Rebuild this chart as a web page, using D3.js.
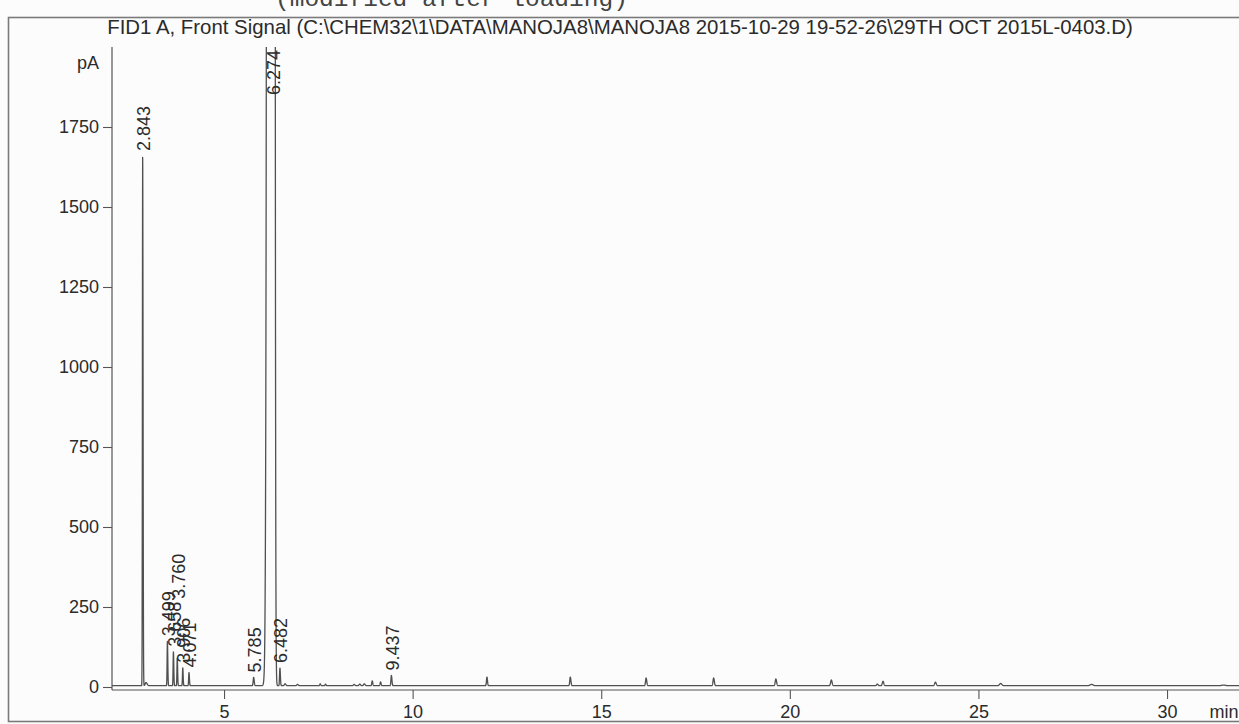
<!DOCTYPE html>
<html>
<head>
<meta charset="utf-8">
<script src="https://cdn.jsdelivr.net/npm/d3@7"></script>
<style>
  html, body { margin: 0; padding: 0; background: #fcfcfc; }
  svg { display: block; }
</style>
</head>
<body>
<svg id="chart" width="1239" height="724"></svg>
<script>
// ---- chromatogram data (FID1 A, front signal) ----
const signalTitle = "FID1 A, Front Signal (C:\\CHEM32\\1\\DATA\\MANOJA8\\MANOJA8 2015-10-29 19-52-26\\29TH OCT 2015L-0403.D)";
const headerNote = "(modified after loading)";
const yUnit = "pA";
const xUnit = "min";
const yTickLabels = [0, 250, 500, 750, 1000, 1250, 1500, 1750];
const xTickLabels = [5, 10, 15, 20, 25, 30];
const baselineLevel = 4;          // pA, detector baseline
const runRange = [2.03, 32];      // min
const signalRange = [0, 2000];    // pA shown on the axis

// retention time (min), apex signal (pA), front / tail widths (min), integrator label
const peakTimes   = [2.843, 2.93, 3.499, 3.658, 3.760, 3.906, 4.071, 5.785, 6.274, 6.482,
                     6.62, 6.95, 7.55, 7.69, 8.45, 8.60, 8.72, 8.93, 9.15, 9.437,
                     11.97, 14.18, 16.19, 17.98, 19.63, 21.10, 22.32, 22.47, 23.86, 25.59, 28.00, 31.50];
const peakHeights = [1659, 14, 143, 110, 90, 60, 45, 30, 150000, 59,
                     10, 8, 10, 9, 8, 9, 10, 19, 16, 36,
                     31, 31, 28, 28, 25, 22, 9, 18, 15, 11, 8, 6];
const peakFront   = [0.007, 0.02, 0.008, 0.008, 0.008, 0.008, 0.009, 0.012, 0.052, 0.010,
                     0.02, 0.02, 0.012, 0.012, 0.02, 0.02, 0.02, 0.012, 0.012, 0.012,
                     0.012, 0.014, 0.015, 0.016, 0.017, 0.018, 0.02, 0.018, 0.02, 0.03, 0.04, 0.05];
const peakTail    = [0.010, 0.03, 0.010, 0.010, 0.010, 0.010, 0.011, 0.015, 0.029, 0.012,
                     0.02, 0.02, 0.014, 0.014, 0.02, 0.02, 0.02, 0.014, 0.014, 0.014,
                     0.014, 0.016, 0.017, 0.018, 0.019, 0.02, 0.02, 0.02, 0.022, 0.03, 0.04, 0.05];
const peakLabels  = ["2.843", "", "3.499", "3.658", "3.760", "3.906", "4.071", "5.785", "6.274", "6.482",
                     "", "", "", "", "", "", "", "", "", "9.437",
                     "", "", "", "", "", "", "", "", "", "", "", ""];

const peaks = peakTimes.map((t, i) => ({
  t, h: peakHeights[i], front: peakFront[i], tail: peakTail[i], label: peakLabels[i]
}));

// detector response at time t: baseline plus asymmetric gaussian peaks
function signalAt(t) {
  let v = baselineLevel;
  for (const p of peaks) {
    const d = t - p.t;
    const w = d < 0 ? p.front : p.tail;
    if (Math.abs(d) > 8 * w) continue;
    v += (p.h - baselineLevel) * Math.exp(-0.5 * (d / w) * (d / w));
  }
  return v;
}

const trace = d3.range(runRange[0], runRange[1], 0.0025).map(t => [t, signalAt(t)]);

// ---- layout ----
const svg = d3.select("#chart");
const font = "'Liberation Sans', Arial, sans-serif";
const textColor = "#2b2b2b";
const axisColor = "#555";
const labelSize = 18;

const x = d3.scaleLinear().domain(runRange).range([112, 112 + (runRange[1] - runRange[0]) * 37.72]);
const y = d3.scaleLinear().domain(signalRange).range([687, 47]);
const xAxisY = 690;

// page frame
svg.append("rect")
  .attr("x", 8.5).attr("y", 17.5).attr("width", 1240).attr("height", 704)
  .attr("fill", "none").attr("stroke", "#7a7a7a").attr("stroke-width", 1.6);

// header note (runs off the page top)
svg.append("text")
  .attr("x", 275).attr("y", 6)
  .attr("font-family", "'Liberation Mono', 'Courier New', monospace")
  .attr("font-size", 24.5).attr("fill", "#444")
  .text(headerNote);

// signal title
svg.append("text")
  .attr("x", 620).attr("y", 34)
  .attr("text-anchor", "middle")
  .attr("font-family", font).attr("font-size", 20.4).attr("fill", textColor)
  .text(signalTitle);

// ---- y axis ----
const yAxisG = svg.append("g").attr("transform", "translate(112,0)");
yAxisG.call(d3.axisLeft(y).tickValues(d3.range(0, 2001, 50)).tickSize(4).tickFormat(""))
  .call(g => g.select(".domain").remove());
yAxisG.call(d3.axisLeft(y).tickValues(yTickLabels).tickSize(9).tickPadding(4).tickFormat(d3.format("d")))
  .call(g => g.selectAll(".domain").remove());
yAxisG.selectAll("line").attr("stroke", axisColor).attr("stroke-width", 1.1);
yAxisG.selectAll("text").attr("font-family", font).attr("font-size", labelSize).attr("fill", textColor);
yAxisG.append("line")
  .attr("x1", 0).attr("x2", 0).attr("y1", y(signalRange[1])).attr("y2", xAxisY)
  .attr("stroke", axisColor).attr("stroke-width", 1.2);
yAxisG.append("text")
  .attr("x", -13).attr("y", y(1950)).attr("dy", "0.32em")
  .attr("text-anchor", "end")
  .attr("font-family", font).attr("font-size", labelSize).attr("fill", textColor)
  .text(yUnit);

// ---- x axis ----
const xAxisG = svg.append("g").attr("transform", `translate(0,${xAxisY})`);
xAxisG.call(d3.axisBottom(x).tickValues(d3.range(3, 33, 1)).tickSize(5).tickFormat(""))
  .call(g => g.select(".domain").remove());
xAxisG.call(d3.axisBottom(x).tickValues(xTickLabels).tickSize(9).tickPadding(6).tickFormat(d3.format("d")))
  .call(g => g.selectAll(".domain").remove());
xAxisG.selectAll("line").attr("stroke", axisColor).attr("stroke-width", 1.1);
xAxisG.selectAll("text").attr("font-family", font).attr("font-size", labelSize).attr("fill", textColor);
xAxisG.append("line")
  .attr("x1", 112).attr("x2", 1239).attr("y1", 0).attr("y2", 0)
  .attr("stroke", axisColor).attr("stroke-width", 1.2);
xAxisG.append("text")
  .attr("x", 1224).attr("y", 9 + 6).attr("dy", "0.71em")
  .attr("text-anchor", "middle")
  .attr("font-family", font).attr("font-size", labelSize).attr("fill", textColor)
  .text(xUnit);

// ---- trace ----
svg.append("clipPath").attr("id", "plotClip")
  .append("rect").attr("x", 112).attr("y", y(signalRange[1])).attr("width", 1239 - 112).attr("height", xAxisY - y(signalRange[1]));

svg.append("path")
  .datum(trace)
  .attr("clip-path", "url(#plotClip)")
  .attr("fill", "none")
  .attr("stroke", "#505050")
  .attr("stroke-width", 1.3)
  .attr("stroke-linejoin", "round")
  .attr("d", d3.line().x(d => x(d[0])).y(d => y(d[1])));

// ---- retention time labels, rotated, stacked where they collide ----
const labelG = svg.append("g");
const placed = [];
const plotTop = y(signalRange[1]);
peaks.filter(p => p.label).forEach(p => {
  const px = x(p.t) + 1;
  const txt = labelG.append("text")
    .attr("font-family", font).attr("font-size", labelSize).attr("fill", textColor)
    .attr("text-anchor", "start").attr("dy", "0.36em")
    .text(p.label);
  const len = txt.node().getComputedTextLength();
  const apexY = y(Math.min(p.h, signalRange[1]));
  let bottom = p.h > signalRange[1] ? plotTop + 3 + len : apexY - 5;
  let moved = true;
  while (moved) {
    moved = false;
    for (const q of placed) {
      if (Math.abs(q.x - px) < 5 && bottom > q.top && bottom - len < q.bottom) {
        bottom = q.top - 3;
        moved = true;
      }
    }
  }
  placed.push({ x: px, bottom, top: bottom - len });
  txt.attr("transform", `translate(${px},${bottom}) rotate(-90)`);
});
</script>
</body>
</html>
